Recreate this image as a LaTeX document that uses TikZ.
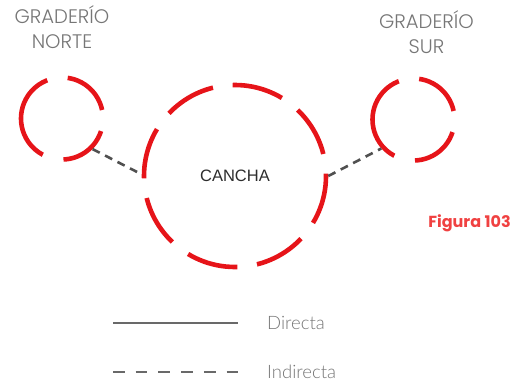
\documentclass[tikz,border=0pt]{standalone}
\usepackage{fontspec}
\usepackage{tikz}
\usetikzlibrary{positioning}
\setsansfont{Liberation Sans}
\newfontfamily\grfont{Poppins Light}
\newfontfamily\popfont{Poppins}
\newfontfamily\lgfont{Lato Light}
\definecolor{rojo}{RGB}{230,20,25}
\definecolor{figrojo}{RGB}{240,65,65}
\definecolor{gristxt}{RGB}{118,118,118}
\definecolor{texto}{RGB}{45,45,45}
\definecolor{conector}{RGB}{80,80,80}
\definecolor{leyenda}{RGB}{105,105,105}

\begin{document}
\begin{tikzpicture}[x=1pt,y=1pt,
  grada/.style={circle,draw=rojo,line width=4.6pt,minimum size=82pt,inner sep=0pt,
    dash pattern=on 50.09pt off 20.75pt on 93.74pt off 21.47pt on 50.09pt off 21.47pt,
    dash phase=249.02pt},
  campo/.style={circle,draw=rojo,line width=4.6pt,minimum size=182pt,inner sep=0pt,
    dash pattern=on 51.62pt off 19.85pt,dash phase=49.24pt,
    font=\sffamily\fontsize{16.5}{19}\selectfont,text=texto},
  grtxt/.style={font=\grfont\fontsize{19.6}{25}\selectfont,text=gristxt,align=center,inner sep=0pt},
  lgtxt/.style={font=\lgfont\fontsize{18.5}{22}\selectfont,text=gristxt,inner sep=0pt},
  indirecta/.style={draw=conector,line width=2.6pt,dash pattern=on 8pt off 6pt},
  directa/.style={draw=leyenda,line width=2.8pt},
]
  \useasboundingbox (0,0) rectangle (513,-383);
  \node[grada] (norte) at (62,-118.5) {};
  \node[grada] (sur) at (413.5,-119.5) {};
  \node[campo] (cancha) at (235,-176) {CANCHA};
  \node[grtxt,anchor=base] (tnorte) at (62,-48.6) {GRADERÍO\\NORTE};
  \node[grtxt,anchor=base] (tsur) at (426.5,-53) {GRADERÍO\\SUR};
  \node[font=\popfont\bfseries\fontsize{16}{19}\selectfont,text=figrojo,inner sep=0pt,anchor=base] (fig) at (469.5,-227.3) {Figura 103};
  \draw[indirecta] (norte.-45) -- (cancha.179);
  \draw[indirecta] (cancha.east) -- (sur.222);
  \coordinate (d1) at (113,-323);
  \coordinate (d2) at (238,-323);
  \coordinate (i1) at (113,-372);
  \coordinate (i2) at (238,-372);
  \draw[directa] (d1) -- (d2);
  \draw[directa,dash pattern=on 11.7pt off 11pt] (i1) -- (i2);
  \node[lgtxt,right=29pt of d2] (ldir) {Directa};
  \node[lgtxt,right=29pt of i2] (lind) {Indirecta};
\end{tikzpicture}
\end{document}
